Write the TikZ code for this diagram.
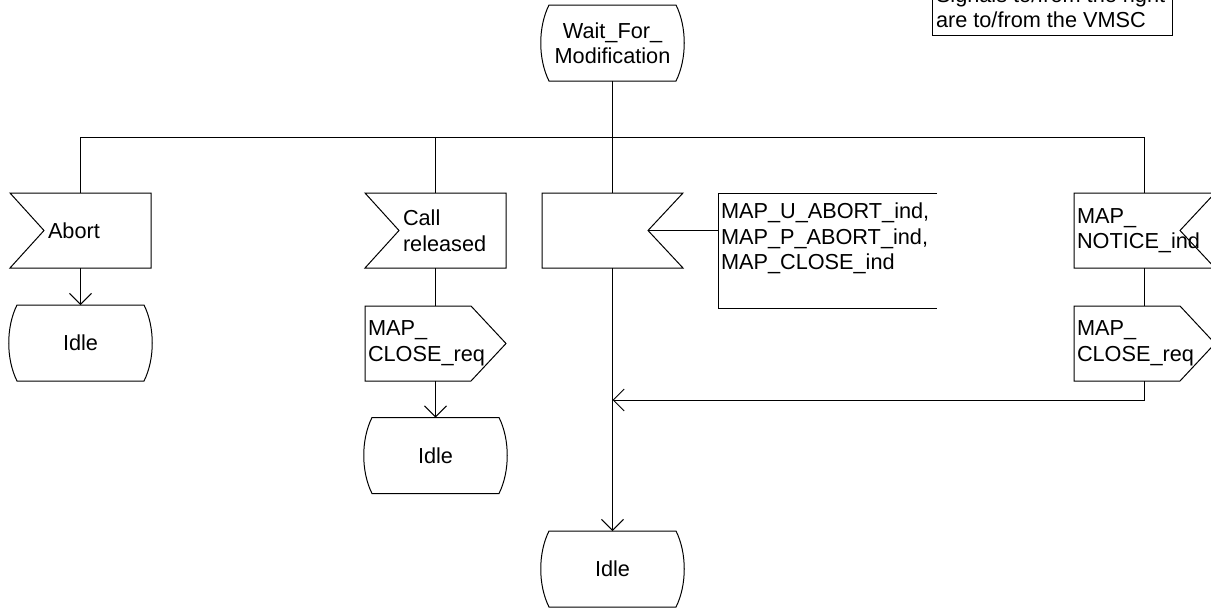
\documentclass[tikz,border=0pt]{standalone}
\usepackage{fontspec}
\setmainfont{Liberation Sans}
\usetikzlibrary{arrows.meta}
\tikzset{
  ln/.style={line width=1pt, draw=black},
  arr/.style={ln, -{Straight Barb[length=11pt,width=22pt,line width=1pt]}},
  txt/.style={inner sep=0pt, outer sep=0pt, align=left, font=\fontsize{21.7}{25.5}\selectfont},
  symbox/.style={draw=none, minimum width=141pt, minimum height=75pt, inner sep=0pt, outer sep=0pt},
  statebox/.style={draw=none, minimum width=143pt, minimum height=76pt, inner sep=0pt, outer sep=0pt, align=center, font=\fontsize{21.7}{25.5}\selectfont},
}
\newcommand{\stateshape}[1]{%
  \draw[ln] ([xshift=8pt]#1.north west) -- ([xshift=-8pt]#1.north east)
    .. controls ([xshift=3pt,yshift=-22pt]#1.north east) and ([xshift=3pt,yshift=22pt]#1.south east) .. ([xshift=-8pt]#1.south east)
    -- ([xshift=8pt]#1.south west)
    .. controls ([xshift=-3pt,yshift=22pt]#1.south west) and ([xshift=-3pt,yshift=-22pt]#1.north west) .. cycle;}
\newcommand{\inleft}[1]{%
  \draw[ln] (#1.north west) -- (#1.north east) -- (#1.south east) -- (#1.south west) -- ([xshift=34pt]#1.west) -- cycle;}
\newcommand{\inright}[1]{%
  \draw[ln] (#1.north west) -- (#1.north east) -- ([xshift=-35pt]#1.east) -- (#1.south east) -- (#1.south west) -- cycle;}
\newcommand{\outshape}[1]{%
  \draw[ln] (#1.north west) -- ([xshift=-35pt]#1.north east) -- (#1.east) -- ([xshift=-35pt]#1.south east) -- (#1.south west) -- cycle;}
\begin{document}
\begin{tikzpicture}[x=1pt,y=-1pt]
\useasboundingbox (0,0) rectangle (1211,608);
\fill[white] (0,0) rectangle (1211,608);

% comment box (top right)
\draw[ln] (932,-40) rectangle (1172,35);
\node[txt, anchor=north west] (cmt) at (936,-13.5) {Signals to/from the right\\are to/from the VMSC};

% start state
\node[statebox] (s0) at (612.5,43) {Wait\_For\_\\Modification};
\stateshape{s0}

% inputs
\node[symbox] (i1) at (80.5,230.5) {};
\inleft{i1}
\node[txt, anchor=west] (i1t) at ([xshift=38pt]i1.west) {Abort};

\node[symbox] (i2) at (435.5,230.5) {};
\inleft{i2}
\node[txt, anchor=west] (i2t) at ([xshift=38pt]i2.west) {Call\\released};

\node[symbox] (i3) at (612.5,230.5) {};
\inright{i3}

\node[symbox] (i4) at (1144.5,230.5) {};
\inright{i4}
\node[txt, anchor=west] (i4t) at ([xshift=3pt]i4.west) {MAP\_\\NOTICE\_ind};

% bracket text for middle input
\coordinate (brtl) at (718,193);
\coordinate (brbl) at (718,308);
\draw[ln] (937,193) -- (brtl) -- (brbl) -- (937,308);
\node[txt, anchor=north west] (i3t) at (721,203) {MAP\_U\_ABORT\_ind,\\MAP\_P\_ABORT\_ind,\\MAP\_CLOSE\_ind};
\draw[ln] ([xshift=-35pt]i3.east) -- (brtl |- i3.east);

% outputs
\node[symbox] (o1) at (435.5,343.5) {};
\outshape{o1}
\node[txt, anchor=west] (o1t) at ([xshift=3pt]o1.west) {MAP\_\\CLOSE\_req};

\node[symbox] (o2) at (1144.5,343.5) {};
\outshape{o2}
\node[txt, anchor=west] (o2t) at ([xshift=3pt]o2.west) {MAP\_\\CLOSE\_req};

% next states
\node[statebox] (idle1) at (80.5,343) {Idle};
\stateshape{idle1}
\node[statebox] (idle2) at (435.5,455.5) {Idle};
\stateshape{idle2}
\node[statebox] (idle3) at (612.5,569) {Idle};
\stateshape{idle3}

% bus
\coordinate (bus) at (612.5,137);
\draw[ln] (s0.south) -- (i3.north);
\draw[ln] (i1.north) -- (i1.north |- bus) -- (i4.north |- bus) -- (i4.north);
\draw[ln] (i2.north) -- (i2.north |- bus);

% flows
\draw[arr] (i1.south) -- (idle1.north);
\draw[ln] (i2.south) -- (o1.north);
\draw[arr] (o1.south) -- (idle2.north);
\draw[arr] (i3.south) -- (idle3.north);
\draw[ln] (i4.south) -- (o2.north);
\coordinate (mrg) at (612.5,400);
\draw[arr] (o2.south) |- (mrg);
\end{tikzpicture}
\end{document}
